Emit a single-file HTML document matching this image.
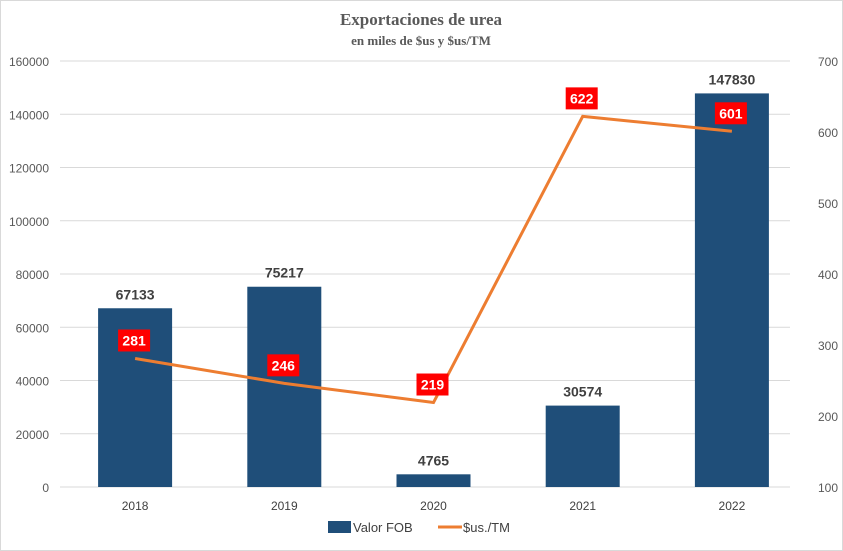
<!DOCTYPE html>
<html><head><meta charset="utf-8"><style>
html,body{margin:0;padding:0;background:#fff;}
svg{display:block;font-family:"Liberation Sans",sans-serif;}
</style></head><body>
<svg id="chart" width="843" height="551" viewBox="0 0 843 551">
<rect x="0.5" y="0.5" width="842" height="550" fill="#fff" stroke="#d9d9d9"/>
<text x="421" y="25" text-anchor="middle" font-family="Liberation Serif,serif" font-weight="bold" font-size="17" fill="#595959">Exportaciones de urea</text>
<text x="421" y="45" text-anchor="middle" font-family="Liberation Serif,serif" font-weight="bold" font-size="13" fill="#595959">en miles de $us y $us/TM</text>
<g id="grid"></g><g id="bars"></g><g id="line"></g><g id="labels"></g>
<g>
<rect x="328" y="521" width="23" height="12" fill="#1f4e79"/>
<text x="353" y="532" font-size="13" fill="#404040">Valor FOB</text>
<line x1="438" y1="527" x2="462" y2="527" stroke="#ed7d31" stroke-width="3"/>
<text x="463" y="532" font-size="13" fill="#404040">$us./TM</text>
</g>
</svg>
<script>
const categories=["2018","2019","2020","2021","2022"];
const fobValues=[67133,75217,4765,30574,147830];
const priceValues=[281,246,219,622,601];
const leftTicks=[0,20000,40000,60000,80000,100000,120000,140000,160000];
const rightTicks=[100,200,300,400,500,600,700];
const NS="http://www.w3.org/2000/svg";
const x0=60.5,x1=806.5,yTop=61,yBot=487;
const band=(x1-x0)/categories.length;
const xc=i=>x0+band*(i+0.5);
const yL=v=>yBot-(v/160000)*(yBot-yTop);
const yR=v=>yBot-((v-100)/600)*(yBot-yTop);
function mk(tag,attrs,parent,txt){const e=document.createElementNS(NS,tag);for(const k in attrs)e.setAttribute(k,attrs[k]);if(txt!==undefined)e.textContent=txt;document.getElementById(parent).appendChild(e);return e;}
leftTicks.forEach(t=>{
  const g=mk("line",{x1:60,x2:790,y1:yL(t),y2:yL(t),stroke:"#d9d9d9","stroke-width":1},"grid");
  
  
  const l=mk("text",{x:49,y:yL(t)+5,"text-anchor":"end","font-size":12,fill:"#595959"},"grid",t);
  
  
});
rightTicks.forEach(t=>{
  const l=mk("text",{x:818,y:yR(t)+5,"font-size":12,fill:"#595959"},"grid",t);
  
  
});
categories.forEach((c,i)=>{
  const l=mk("text",{x:xc(i),y:510,"text-anchor":"middle","font-size":12,fill:"#404040"},"grid",c);
  
  
});
const bw=74;
fobValues.forEach((v,i)=>{
  const r=mk("rect",{x:xc(i)-bw/2,y:yL(v),width:bw,height:yBot-yL(v),fill:"#1f4e79"},"bars");
  
  
  const t=mk("text",{x:xc(i),y:yL(v)-9,"text-anchor":"middle","font-size":14,"font-weight":"bold",fill:"#404040"},"labels",v);
  
  
});
const pl=mk("polyline",{points:priceValues.map((v,i)=>xc(i)+","+yR(v)).join(" "),fill:"none",stroke:"#ed7d31","stroke-width":3},"line");


priceValues.forEach((v,i)=>{
  const cx=xc(i)-1,cy=yR(v)-18;
  const b=mk("rect",{x:cx-16,y:cy-11,width:32,height:22,fill:"#ff0000"},"labels");
  
  
  const t=mk("text",{x:cx,y:cy+5,"text-anchor":"middle","font-size":14,"font-weight":"bold",fill:"#fff"},"labels",v);
  
  
});
</script>
</body></html>
